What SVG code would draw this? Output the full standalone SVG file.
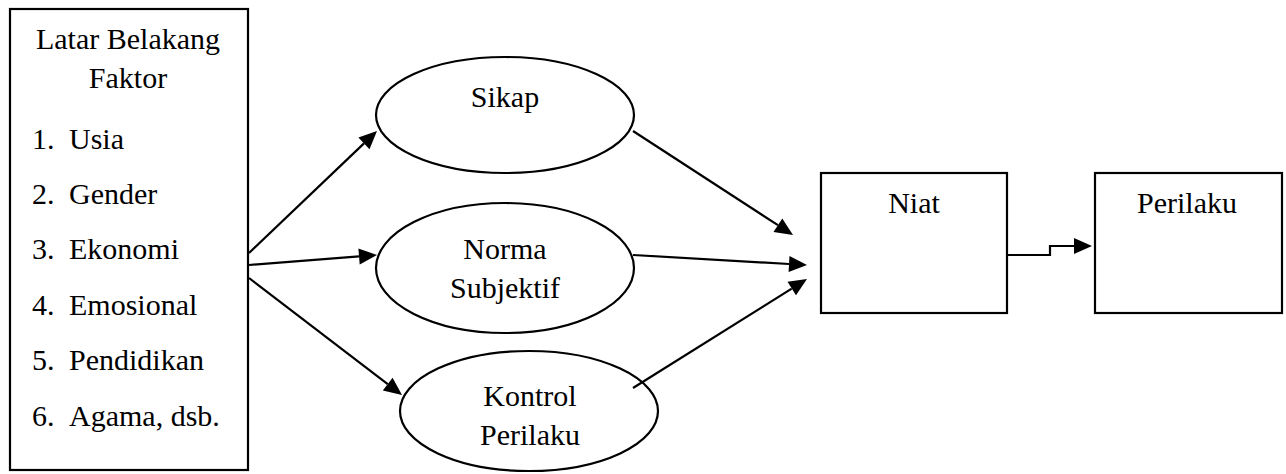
<svg xmlns="http://www.w3.org/2000/svg" width="1286" height="474" viewBox="0 0 1286 474">
<g id="latar">
<rect x="10" y="9" width="238" height="461" fill="#fff" stroke="#000" stroke-width="2.2"/>
<text x="128" y="49" text-anchor="middle" font-family="'Liberation Serif', serif" font-size="30">Latar Belakang</text>
<text x="128" y="88" text-anchor="middle" font-family="'Liberation Serif', serif" font-size="30">Faktor</text>
<text x="32" y="149" font-family="'Liberation Serif', serif" font-size="30">1.</text><text x="69" y="149" font-family="'Liberation Serif', serif" font-size="30">Usia</text>
<text x="32" y="204" font-family="'Liberation Serif', serif" font-size="30">2.</text><text x="69" y="204" font-family="'Liberation Serif', serif" font-size="30">Gender</text>
<text x="32" y="259" font-family="'Liberation Serif', serif" font-size="30">3.</text><text x="69" y="259" font-family="'Liberation Serif', serif" font-size="30">Ekonomi</text>
<text x="32" y="315" font-family="'Liberation Serif', serif" font-size="30">4.</text><text x="69" y="315" font-family="'Liberation Serif', serif" font-size="30">Emosional</text>
<text x="32" y="370" font-family="'Liberation Serif', serif" font-size="30">5.</text><text x="69" y="370" font-family="'Liberation Serif', serif" font-size="30">Pendidikan</text>
<text x="32" y="426" font-family="'Liberation Serif', serif" font-size="30">6.</text><text x="69" y="426" font-family="'Liberation Serif', serif" font-size="30">Agama, dsb.</text>
</g>
<g id="sikap">
<ellipse cx="505" cy="115" rx="129" ry="58" fill="#fff" stroke="#000" stroke-width="2.2"/>
<text x="505" y="107" text-anchor="middle" font-family="'Liberation Serif', serif" font-size="30">Sikap</text>
</g>
<g id="norma">
<ellipse cx="505" cy="268" rx="129" ry="65" fill="#fff" stroke="#000" stroke-width="2.2"/>
<text x="505" y="259" text-anchor="middle" font-family="'Liberation Serif', serif" font-size="30">Norma</text>
<text x="505" y="298" text-anchor="middle" font-family="'Liberation Serif', serif" font-size="30">Subjektif</text>
</g>
<g id="kontrol">
<ellipse cx="529" cy="411" rx="129" ry="60" fill="#fff" stroke="#000" stroke-width="2.2"/>
<text x="530" y="406" text-anchor="middle" font-family="'Liberation Serif', serif" font-size="30">Kontrol</text>
<text x="530" y="445" text-anchor="middle" font-family="'Liberation Serif', serif" font-size="30">Perilaku</text>
</g>
<g id="niat">
<rect x="821" y="173" width="186" height="140" fill="#fff" stroke="#000" stroke-width="2.2"/>
<text x="914" y="213" text-anchor="middle" font-family="'Liberation Serif', serif" font-size="30">Niat</text>
</g>
<g id="perilaku">
<rect x="1095" y="173" width="187" height="140" fill="#fff" stroke="#000" stroke-width="2.2"/>
<text x="1187" y="213" text-anchor="middle" font-family="'Liberation Serif', serif" font-size="30">Perilaku</text>
</g>
<g id="connectors">
<g fill="none" stroke="#000" stroke-width="2.2">
<line x1="249" y1="253" x2="364" y2="143.4"/>
<line x1="249" y1="265" x2="359" y2="256.4"/>
<line x1="249" y1="278" x2="387.7" y2="384.1"/>
<line x1="633" y1="131" x2="777.9" y2="225.2"/>
<line x1="633" y1="255" x2="789" y2="264"/>
<line x1="633" y1="388" x2="791.7" y2="288.6"/>
<polyline points="1007,255 1050,255 1050,246 1075,246"/>
</g>
<g fill="#000" stroke="none">
<polygon points="377,131 369.5,149.2 358.4,137.6"/>
<polygon points="377,255 359.7,264.4 358.4,248.4"/>
<polygon points="402,395 382.8,390.4 392.6,377.7"/>
<polygon points="793,235 773.5,231.9 782.3,218.5"/>
<polygon points="807,265 788.6,272 789.5,256"/>
<polygon points="807,279 796,295.3 787.5,281.8"/>
<polygon points="1092,246 1074,238 1074,254"/>
</g>
</g>
</svg>
